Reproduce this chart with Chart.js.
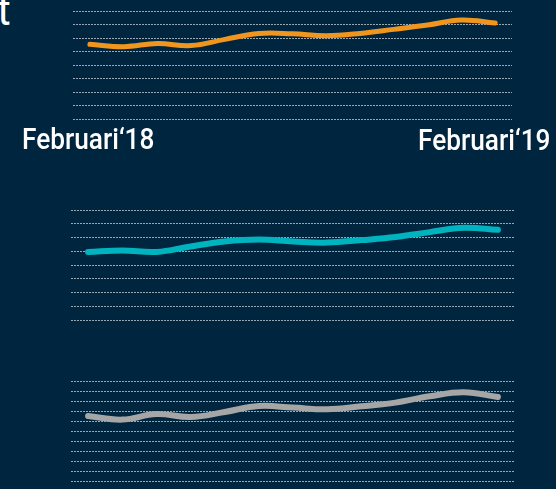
<!DOCTYPE html>
<html>
<head>
<meta charset="utf-8">
<script src="https://cdn.jsdelivr.net/npm/chart.js@4/dist/chart.umd.min.js"></script>
<style>
  html, body { margin: 0; padding: 0; background: #00263f; }
  #wrap { position: relative; width: 556px; height: 489px; overflow: hidden; background: #00263f; }
  .box { position: absolute; left: 0; width: 556px; }
  .lbl {
    position: absolute; color: #fff; white-space: nowrap;
    font-family: Roboto, "DejaVu Sans Condensed", sans-serif;
    font-weight: 500; font-size: 29px; line-height: 30px;
  }
</style>
</head>
<body>
<div id="wrap">
  <div class="lbl" id="titleLbl" style="left:-3px; top:-10px; font-size:42px; line-height:42px; font-weight:400;">t</div>
  <div class="box" style="top:0; height:135px;"><canvas id="chart1"></canvas></div>
  <div class="box" style="top:195px; height:135px;"><canvas id="chart2"></canvas></div>
  <div class="box" style="top:365px; height:124px;"><canvas id="chart3"></canvas></div>
  <div class="lbl" id="startLbl" style="left:22px; top:124px; transform-origin:left top;">Februari‘18</div>
  <div class="lbl" id="endLbl" style="right:6px; top:125px; transform-origin:right top;">Februari‘19</div>
</div>
<script>
// months Feb '18 .. Feb '19
var months = ['Februari', 'Maart', 'April', 'Mei', 'Juni', 'Juli', 'Augustus',
              'September', 'Oktober', 'November', 'December', 'Januari', 'Februari'];

var orangeValues = [5.53, 5.36, 5.59, 5.44, 5.9, 6.33, 6.31, 6.17, 6.34, 6.64, 6.96, 7.33, 7.11];
var tealValues   = [4.95, 5.06, 4.95, 5.35, 5.71, 5.85, 5.71, 5.63, 5.81, 6.03, 6.39, 6.71, 6.56];
var greyValues   = [6.5, 6.14, 6.7, 6.4, 6.9, 7.5, 7.34, 7.17, 7.47, 7.84, 8.47, 8.87, 8.4];

// squeeze the labels to the condensed width of the original
['startLbl', 'endLbl'].forEach(function(id) {
    var el = document.getElementById(id);
    var w = el.offsetWidth;
    el.style.transform = 'scaleX(' + (132 / w) + ')';
});

function makeChart(id, values, color, width, yMax, pad) {
    var ctx = document.getElementById(id).getContext('2d');
    return new Chart(ctx, {
        type: 'line',
        data: {
            labels: months,
            datasets: [{
                data: values,
                borderColor: color,
                borderWidth: width,
                borderCapStyle: 'round',
                borderJoinStyle: 'round',
                tension: 0.4,
                pointRadius: 0,
                fill: false
            }]
        },
        options: {
            responsive: true,
            maintainAspectRatio: false,
            animation: false,
            layout: { padding: pad },
            plugins: { legend: { display: false }, tooltip: { enabled: false } },
            scales: {
                x: {
                    offset: true,
                    display: false
                },
                y: {
                    min: 0,
                    max: yMax,
                    ticks: { display: false, stepSize: 1 },
                    border: { display: false, dash: [2, 1] },
                    grid: {
                        color: 'rgba(205,212,220,0.75)',
                        lineWidth: 1,
                        drawTicks: false
                    }
                }
            }
        }
    });
}

makeChart('chart1', orangeValues, '#f0961e', 5, 8, { left: 73, right: 44, top: 11, bottom: 16 });
makeChart('chart2', tealValues, '#00b4bf', 6, 8, { left: 71, right: 41, top: 15, bottom: 10 });
makeChart('chart3', greyValues, '#a6a6a6', 6, 10, { left: 71, right: 41, top: 16, bottom: 8 });
</script>
</body>
</html>
